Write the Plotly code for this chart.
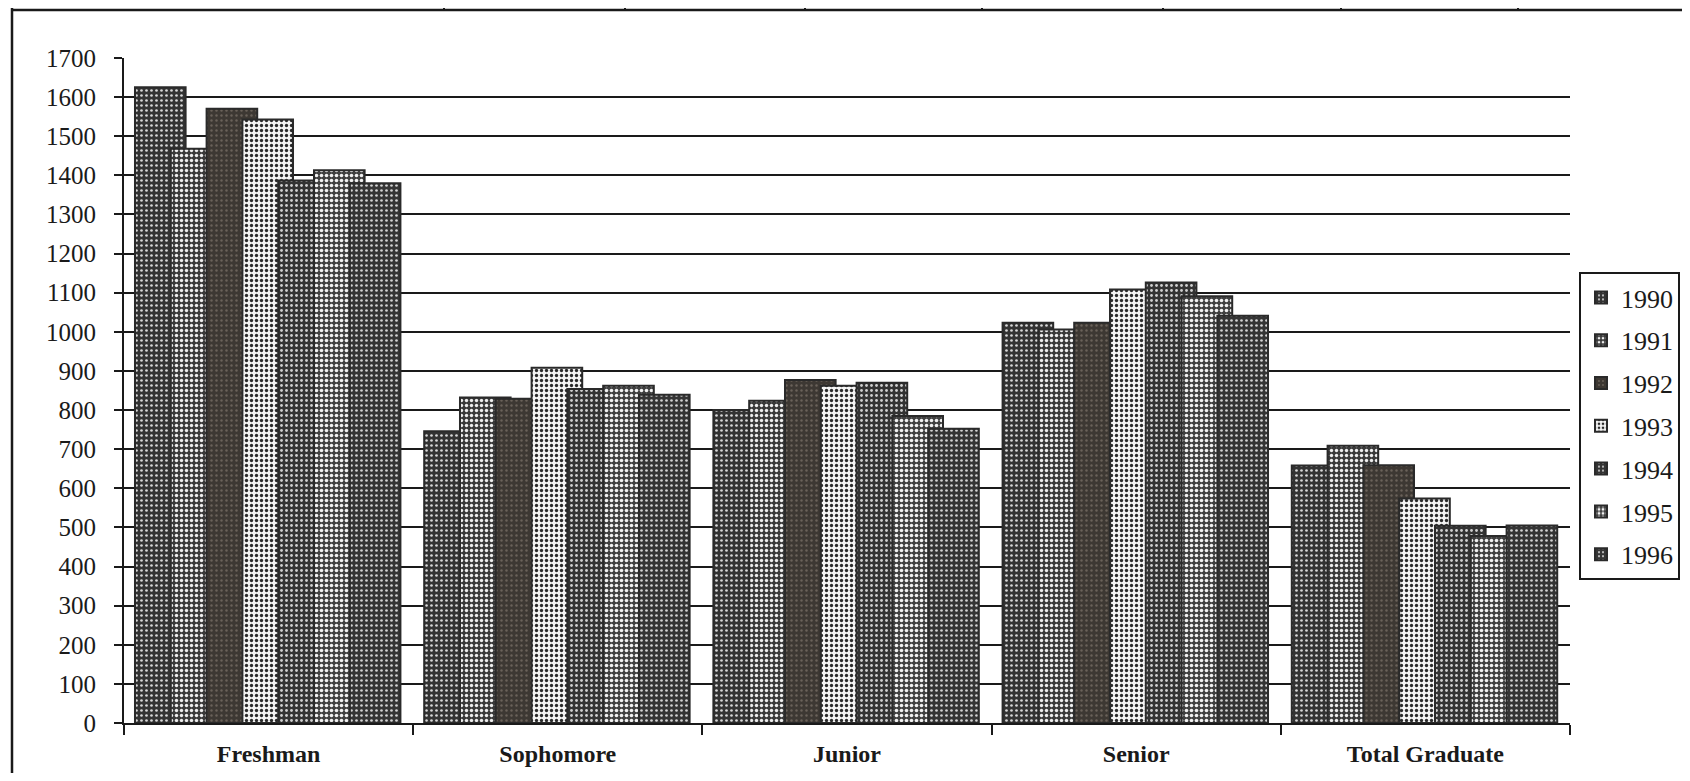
import plotly.graph_objects as go

categories = ["Freshman", "Sophomore", "Junior", "Senior", "Total Graduate"]
years = ["1990", "1991", "1992", "1993", "1994", "1995", "1996"]

v1990 = [1625, 746, 800, 1023, 658]
v1991 = [1468, 832, 824, 1006, 709]
v1992 = [1570, 829, 877, 1023, 659]
v1993 = [1543, 908, 862, 1108, 574]
v1994 = [1387, 854, 870, 1126, 504]
v1995 = [1413, 862, 785, 1091, 478]
v1996 = [1380, 839, 752, 1041, 505]
series = [v1990, v1991, v1992, v1993, v1994, v1995, v1996]

y_ticks = list(range(0, 1701, 100))

# halftone-like fills (bg, fg, solidity, size)
fills = [
    ("#333333", "#d8d8d8", 0.22, 5),
    ("#3a3a3a", "#eeeeee", 0.36, 5),
    ("#3d3833", "#6a625a", 0.18, 5),
    ("#f4f4f4", "#2a2a2a", 0.35, 5),
    ("#333333", "#d0d0d0", 0.24, 5),
    ("#404040", "#f2f2f2", 0.40, 5),
    ("#353535", "#d4d4d4", 0.22, 5),
]

# page keeps its 8px default body margin, so the figure is 16px smaller than the window
W, H = 1674, 765
OFF = 8
L, R_px, T, B_px = 124 - OFF, 1570 - OFF, 58 - OFF, 723 - OFF
serif = "Liberation Serif, Times New Roman, serif"

step = 0.1238
bw = 0.175
start = -0.462

fig = go.Figure()
for i, (yr, vals) in enumerate(zip(years, series)):
    bg, fg, sol, sz = fills[i]
    fig.add_trace(go.Bar(
        x=categories, y=vals, name=yr, legendgroup=yr,
        offset=start + i * step, width=bw,
        marker=dict(
            color=bg,
            line=dict(color="#2a2a2a", width=2),
            pattern=dict(shape=".", bgcolor=bg, fgcolor=fg, solidity=sol, size=sz,
                         fillmode="replace"),
        ),
    ))

def px2x(px):
    return (px - OFF - L) / (R_px - L)

def px2y(py):
    return (B_px - (py - OFF)) / (B_px - T)

shapes = []
# left frame border
shapes.append(dict(type="line", xref="paper", yref="paper",
                   x0=px2x(12), x1=px2x(12), y0=px2y(8), y1=px2y(781),
                   line=dict(color="#1a1a1a", width=2.5)))
# top frame line with the stubs of the table above
shapes.append(dict(type="line", xref="paper", yref="paper",
                   x0=px2x(12), x1=px2x(1690), y0=px2y(10), y1=px2y(10),
                   line=dict(color="#1a1a1a", width=2.5)))
for vx in [444, 625, 805, 982, 1163, 1341, 1518]:
    shapes.append(dict(type="line", xref="paper", yref="paper",
                       x0=px2x(vx), x1=px2x(vx), y0=px2y(8), y1=px2y(10),
                       line=dict(color="#1a1a1a", width=2)))

fig.update_layout(
    width=W, height=H,
    margin=dict(l=L, r=W - R_px, t=T, b=H - B_px, pad=0, autoexpand=False),
    paper_bgcolor="white", plot_bgcolor="white",
    barmode="overlay",
    showlegend=True,
    legend=dict(
        x=px2x(1680), xanchor="right", y=px2y(426), yanchor="middle",
        bordercolor="#1a1a1a", borderwidth=2, bgcolor="white",
        font=dict(family=serif, size=26, color="#1a1a1a"),
        itemwidth=30, tracegroupgap=6,
    ),
    font=dict(family=serif, color="#1a1a1a"),
    xaxis=dict(
        type="category", categoryorder="array", categoryarray=categories,
        range=[-0.5, 4.5], automargin=False,
        showline=True, linecolor="#1a1a1a", linewidth=2,
        ticks="outside", ticklen=10, tickwidth=2, tickcolor="#1a1a1a",
        tickson="boundaries", showgrid=False,
        tickfont=dict(family=serif, size=24, color="#1a1a1a", weight="bold"),
        ticklabelstandoff=8,
    ),
    xaxis2=dict(
        type="category", categoryorder="array", categoryarray=categories,
        overlaying="x", matches="x", range=[-0.5, 4.5], automargin=False,
        ticks="inside", ticklen=8, tickwidth=2, tickcolor="#1a1a1a",
        tickson="boundaries", showticklabels=False, showgrid=False, showline=False,
        side="bottom",
    ),
    yaxis=dict(
        range=[0, 1700], tickvals=y_ticks, automargin=False,
        showline=True, linecolor="#1a1a1a", linewidth=2,
        ticks="outside", ticklen=8, tickwidth=2, tickcolor="#1a1a1a",
        showgrid=True, gridcolor="#1a1a1a", gridwidth=2,
        zeroline=False,
        tickfont=dict(family=serif, size=25, color="#1a1a1a"),
        ticklabelstandoff=13,
    ),
    shapes=shapes,
)

fig.write_html("out.html", config={"displayModeBar": False})
